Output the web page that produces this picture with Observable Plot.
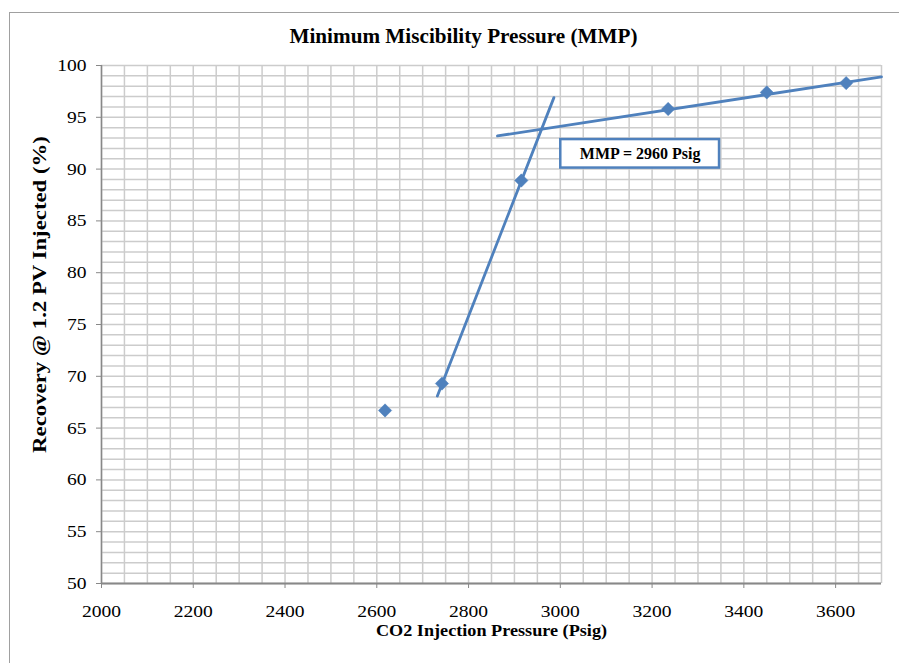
<!DOCTYPE html>
<html>
<head>
<meta charset="utf-8">
<script src="https://cdn.jsdelivr.net/npm/d3@7"></script>
<script src="https://cdn.jsdelivr.net/npm/@observablehq/plot@0.6"></script>
<style>
  html, body { margin: 0; padding: 0; background: #fff; }
  #wrap { position: relative; width: 899px; height: 663px; overflow: hidden; }
  #frame { position: absolute; left: 9px; top: 12px; width: 1000px; height: 1000px; border: 1px solid #a0a0a0; box-sizing: border-box; pointer-events: none; }
  #chart { position: absolute; left: 0; top: 0; }
  #chart svg text { font-family: 'Liberation Serif', 'Times New Roman', serif; }
</style>
</head>
<body>
<div id="wrap"><div id="frame"></div><div id="chart"></div></div>
<script>
// Data
const pressure = [2618, 2742, 2915, 3235, 3450, 3623];
const recovery = [66.7, 69.3, 88.9, 95.8, 97.4, 98.3];

// Trend line 1 (immiscible branch) endpoints
const line1X = [2732, 2986];
const line1Y = [68.1, 96.9];
// Trend line 2 (miscible branch) endpoints
const line2X = [2863, 3700];
const line2Y = [93.2, 98.9];

// Annotation box
const boxText = ["MMP = 2960 Psig"];
const boxX = [3001, 3347];
const boxY = [90.1, 92.85];

const xTicks = [2000, 2200, 2400, 2600, 2800, 3000, 3200, 3400, 3600];
const yTicks = [50, 55, 60, 65, 70, 75, 80, 85, 90, 95, 100];
const xGrid = d3.range(2000, 3701, 50);
const yGrid = d3.range(50, 100.5, 1);

const title = "Minimum Miscibility Pressure (MMP)";
const xLabel = "CO2 Injection Pressure (Psig)";
const yLabel = "Recovery @ 1.2 PV Injected (%)";

const points = pressure.map((p, i) => ({x: p, y: recovery[i]}));
const l1 = line1X.map((x, i) => ({x, y: line1Y[i]}));
const l2 = line2X.map((x, i) => ({x, y: line2Y[i]}));
const box = [{x1: boxX[0], x2: boxX[1], y1: boxY[0], y2: boxY[1], t: boxText[0]}];

const blue = "#4f81bd";
const serif = "'Liberation Serif', 'Times New Roman', serif";

const chart = Plot.plot({
  width: 899,
  height: 663,
  marginLeft: 101,
  marginRight: 18,
  marginTop: 65,
  marginBottom: 80,
  style: {fontFamily: serif, background: "transparent", overflow: "visible"},
  x: {domain: [2000, 3700]},
  y: {domain: [50, 100]},
  marks: [
    Plot.ruleX(xGrid, {stroke: "#cccccc", strokeWidth: 1.5}),
    Plot.ruleY(yGrid, {stroke: "#cccccc", strokeWidth: 1.5}),
    Plot.axisX({ticks: xTicks, tickSize: 5, text: null, label: null, stroke: "#888"}),
    Plot.axisY({ticks: yTicks, tickSize: 5, text: null, label: null, stroke: "#888"}),
    Plot.text(xTicks, {x: d => d, frameAnchor: "bottom", dy: 28, lineAnchor: "middle", text: d => String(d), fontSize: 17, fontFamily: serif, fill: "#000"}),
    Plot.text(yTicks, {y: d => d, frameAnchor: "left", dx: -15, textAnchor: "end", lineAnchor: "middle", text: d => String(d), fontSize: 17, fontFamily: serif, fill: "#000"}),
    Plot.ruleX([2000], {stroke: "#888", strokeWidth: 1.5}),
    Plot.ruleY([50], {stroke: "#888", strokeWidth: 2}),
    Plot.line(l1, {x: "x", y: "y", stroke: blue, strokeWidth: 2.8}),
    Plot.line(l2, {x: "x", y: "y", stroke: blue, strokeWidth: 2.8}),
    Plot.dot(points, {x: "x", y: "y", symbol: "diamond2", r: 6, fill: blue, stroke: blue, strokeWidth: 0.5}),
    Plot.rect(box, {x1: "x1", x2: "x2", y1: "y1", y2: "y2", fill: "white", stroke: blue, strokeWidth: 2.5}),
    Plot.text(box, {x: d => (d.x1 + d.x2) / 2, y: d => (d.y1 + d.y2) / 2, text: "t", fontSize: 16, fontWeight: "bold", fontFamily: serif, fill: "#000"}),
    Plot.text([title], {frameAnchor: "top", dy: -29, lineAnchor: "middle", dx: -28, text: d => d, fontSize: 20, fontWeight: "bold", fontFamily: serif, fill: "#000"}),
    Plot.text([xLabel], {frameAnchor: "bottom", dy: 47, lineAnchor: "middle", text: d => d, fontSize: 17, fontWeight: "bold", fontFamily: serif, fill: "#000"}),
    Plot.text([yLabel], {frameAnchor: "left", dx: -62, dy: -30, rotate: -90, textAnchor: "middle", lineAnchor: "middle", text: d => d, fontSize: 19, fontWeight: "bold", fontFamily: serif, fill: "#000"})
  ]
});

// Horizontal glyph stretch to match the reference's wide serif lettering
const tickSet = new Set([...xTicks, ...yTicks].map(String));
d3.select(chart).selectAll("text").each(function() {
  const t = this.textContent;
  let s = 1;
  if (t === title) s = 1.06;
  else if (t === xLabel) s = 1.07;
  else if (t === yLabel) s = 1.2;
  else if (tickSet.has(t)) s = 1.15;
  if (s === 1) return;
  const tr = this.getAttribute("transform");
  if (tr) {
    this.setAttribute("transform", tr + ` scale(${s},1)`);
  } else {
    const x = +this.getAttribute("x") || 0, y = +this.getAttribute("y") || 0;
    this.setAttribute("x", 0); this.setAttribute("y", 0);
    this.setAttribute("transform", `translate(${x},${y}) scale(${s},1)`);
  }
});
document.getElementById("chart").appendChild(chart);
</script>
</body>
</html>
